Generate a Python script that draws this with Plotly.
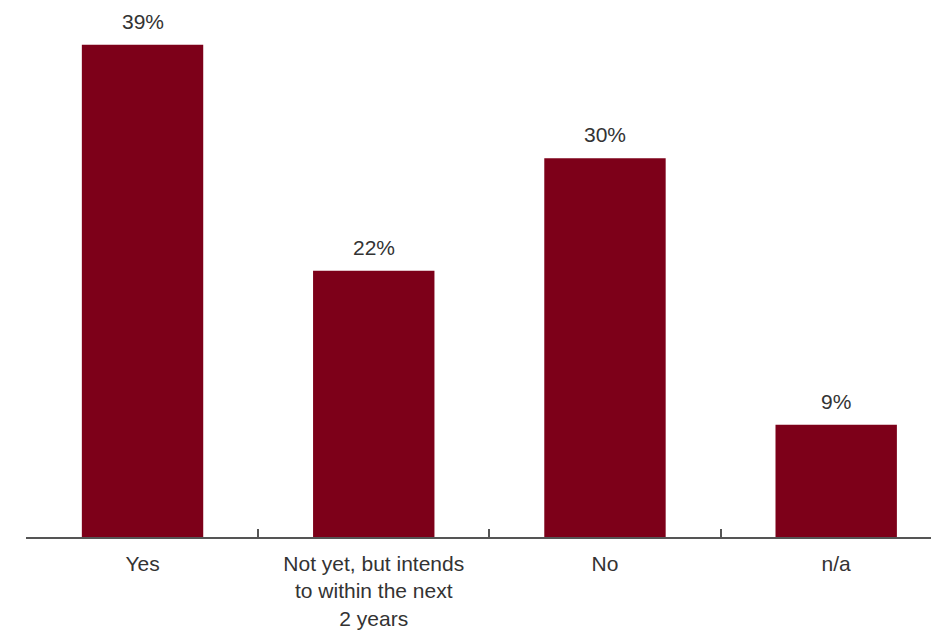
import plotly.graph_objects as go

categories = ["Yes", "Not yet, but intends<br>to within the next<br>2 years", "No", "n/a"]
values = [39, 21.1, 30, 8.9]
labels = ["39%", "22%", "30%", "9%"]

BAR = "#7D0019"
TXT = "#333333"
FONT = "Liberation Sans, Arial, sans-serif"

fig = go.Figure()
fig.add_trace(go.Bar(x=categories, y=values, marker=dict(color=BAR, line=dict(width=0)),
                     width=0.525, hoverinfo="skip"))

for c, v, t in zip(categories, values, labels):
    fig.add_annotation(x=c, y=v, text=t, showarrow=False, yanchor="bottom",
                       yshift=10, font=dict(size=21, color=TXT, family=FONT))

fig.update_layout(
    width=931, height=630,
    margin=dict(l=26, r=0, t=0, b=91),
    paper_bgcolor="white", plot_bgcolor="white",
    showlegend=False,
    font=dict(family=FONT, size=21, color=TXT),
)
fig.update_xaxes(type="category", range=[-0.504, 3.41], showline=True, linecolor="#555555",
                 linewidth=1.5, ticks="inside", tickson="boundaries", ticklen=8,
                 tickcolor="#555555", tickwidth=1.5, showgrid=False,
                 ticklabelstandoff=7,
                 tickfont=dict(size=21, color=TXT, family=FONT))
fig.update_yaxes(range=[0, 42.54], visible=False, showgrid=False, zeroline=False)

fig.write_html("out.html")
